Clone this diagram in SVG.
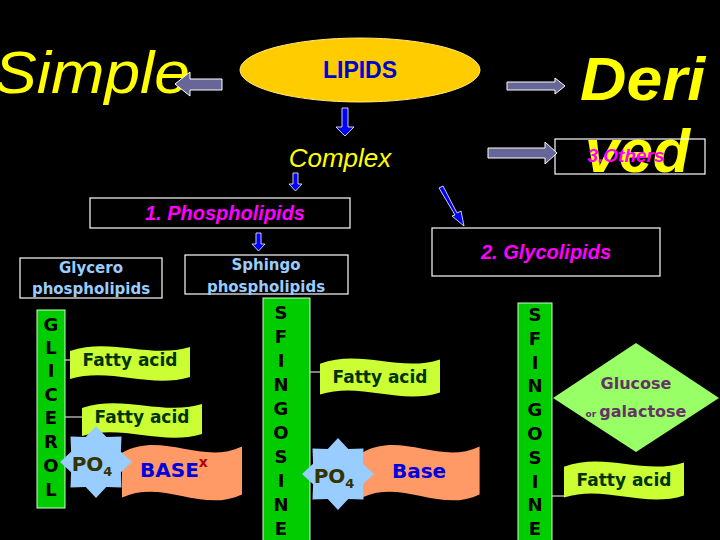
<svg xmlns="http://www.w3.org/2000/svg" xmlns:xlink="http://www.w3.org/1999/xlink" width="720" height="540" viewBox="0 0 720 540">
<style>
.big{font-family:"Liberation Sans",Arial,sans-serif;fill:#FFFF00;font-style:italic}
.box{fill:none;stroke:#fff;stroke-width:1.2}
.mag{font-family:"Liberation Sans",Arial,sans-serif;fill:#FF00FF;font-style:italic;font-weight:bold;text-anchor:middle}
.lb{font-family:"DejaVu Sans",Verdana,sans-serif;fill:#99CCFF;font-weight:bold;font-size:15px;text-anchor:middle}
.bar{fill:#00CC00;stroke:#ccffcc;stroke-width:1}
.let{font-family:"DejaVu Sans",Verdana,sans-serif;font-weight:bold;font-size:18px;text-anchor:middle;fill:#000}
.fa{fill:#CCFF33}
.fat{font-family:"DejaVu Sans",Verdana,sans-serif;font-weight:bold;font-size:17px;fill:#003300;text-anchor:middle}
.org{fill:#FF9966}
.star{fill:#99CCFF}
.po{font-family:"DejaVu Sans",Verdana,sans-serif;font-weight:bold;font-size:20px;fill:#333300;text-anchor:middle}
.ga{fill:#666699;stroke:#fff;stroke-width:1}
.ba{fill:#0000FF;stroke:#fff;stroke-width:0.8}
.ln{stroke:#fff;stroke-width:1}
</style>
<defs>
<path id="banner" d="M0,8 C40,-6 80,16 120,4 L120,34 C80,46 40,24 0,36 Z"/>
<polygon id="star" points="36,0 24.9,10.3 25.5,25.5 10.3,24.9 0,36 -10.3,24.9 -25.5,25.5 -24.9,10.3 -36,0 -24.9,-10.3 -25.5,-25.5 -10.3,-24.9 0,-36 10.3,-24.9 25.5,-25.5 24.9,-10.3"/>
</defs>
<rect width="720" height="540" fill="#000"/>

<g id="simple"><text class="big" x="-6" y="93" font-size="60" textLength="196" lengthAdjust="spacingAndGlyphs">Simple</text></g>
<g id="derived">
<text class="big" x="580" y="100" font-size="62" font-weight="bold" textLength="125" lengthAdjust="spacingAndGlyphs">Deri</text>
<text class="big" x="585" y="172" font-size="62" font-weight="bold" textLength="105" lengthAdjust="spacingAndGlyphs">ved</text>
</g>
<g id="lipids">
<ellipse cx="360" cy="70" rx="120" ry="32" fill="#FFCC00" stroke="#ffe680"/>
<text x="360" y="78" font-family="Liberation Sans,Arial,sans-serif" font-weight="bold" font-size="23" fill="#0000CC" text-anchor="middle">LIPIDS</text>
</g>
<g id="complex"><text class="big" x="340" y="167" font-size="26" text-anchor="middle">Complex</text></g>
<g id="others">
<rect class="box" x="555" y="139" width="150" height="35"/>
<text class="mag" x="626" y="162" font-size="19">3.Others</text>
</g>
<g id="phospholipids">
<rect class="box" x="90" y="198" width="260" height="30"/>
<text class="mag" x="225" y="220" font-size="20" font-weight="normal">1. Phospholipids</text>
</g>
<g id="glycolipids">
<rect class="box" x="432" y="228" width="228" height="48"/>
<text class="mag" x="546" y="259" font-size="20">2. Glycolipids</text>
</g>
<g id="glycero">
<rect class="box" x="20" y="258" width="142" height="40"/>
<text class="lb" x="91" y="273">Glycero</text>
<text class="lb" x="91" y="294">phospholipids</text>
</g>
<g id="sphingo">
<rect class="box" x="185" y="255" width="163" height="39"/>
<text class="lb" x="266" y="270">Sphingo</text>
<text class="lb" x="266" y="292">phospholipids</text>
</g>

<g id="connectors">
<polygon class="ga" points="222,79 190,79 190,72 175,84 190,96 190,90 222,90"/>
<polygon class="ga" points="507,82 555,82 555,78 565,86 555,94 555,90 507,90"/>
<polygon class="ga" points="488,148 545,148 545,142 557,153 545,164 545,158 488,158"/>
<polygon class="ba" points="342,108 348,108 348,127 354,127 345,136 336,127 342,127"/>
<polygon class="ba" points="293,173 298,173 298,184 302,184 295.5,191 289,184 293,184"/>
<polygon class="ba" points="256,233 261,233 261,244 265,244 258.5,251 252,244 256,244"/>
<polygon class="ba" points="439,188 443,186 457,213 461,211 464,226 452,216 455,215"/>
<line class="ln" x1="60" y1="360" x2="80" y2="360"/>
<line class="ln" x1="60" y1="417" x2="84" y2="417"/>
<line class="ln" x1="310" y1="372" x2="322" y2="372"/>
<line class="ln" x1="552" y1="496" x2="566" y2="496"/>
</g>

<g id="glycerol">
<rect class="bar" x="37" y="310" width="28" height="198"/>
<text class="let" x="51" y="331">G</text><text class="let" x="51" y="354">L</text><text class="let" x="51" y="377">I</text><text class="let" x="51" y="401">C</text><text class="let" x="51" y="424">E</text><text class="let" x="51" y="448">R</text><text class="let" x="51" y="472">O</text><text class="let" x="51" y="496">L</text>
</g>
<g id="fa1"><use href="#banner" class="fa" transform="translate(70,343) scale(1,1)"/><text class="fat" x="130" y="366">Fatty acid</text></g>
<g id="fa2"><use href="#banner" class="fa" transform="translate(82,400) scale(1,1)"/><text class="fat" x="142" y="423">Fatty acid</text></g>
<g id="base1"><use href="#banner" class="org" transform="translate(122,440) scale(1,1.6)"/>
<text x="140" y="477" font-family="DejaVu Sans,Verdana,sans-serif" font-weight="bold" font-size="20" fill="#0000DD">BASE<tspan dy="-10" font-size="14" fill="#AA0000">x</tspan></text></g>
<g id="po4a"><use href="#star" class="star" transform="translate(96,462)"/><text class="po" x="92" y="471">PO<tspan dy="5" font-size="13">4</tspan></text></g>

<g id="sphingosine1">
<rect class="bar" x="263" y="298" width="47" height="250"/>
<text class="let" x="281" y="319">S</text><text class="let" x="281" y="343">F</text><text class="let" x="281" y="367">I</text><text class="let" x="281" y="391">N</text><text class="let" x="281" y="415">G</text><text class="let" x="281" y="439">O</text><text class="let" x="281" y="463">S</text><text class="let" x="281" y="487">I</text><text class="let" x="281" y="511">N</text><text class="let" x="281" y="535">E</text>
</g>
<g id="fa3"><use href="#banner" class="fa" transform="translate(320,355) scale(1,1.1)"/><text class="fat" x="380" y="383">Fatty acid</text></g>
<g id="base2"><use href="#banner" class="org" transform="translate(362,440) scale(0.98,1.6)"/>
<text x="419" y="478" font-family="DejaVu Sans,Verdana,sans-serif" font-weight="bold" font-size="20" fill="#0000DD" text-anchor="middle">Base</text></g>
<g id="po4b"><use href="#star" class="star" transform="translate(338,474)"/><text class="po" x="334" y="483">PO<tspan dy="5" font-size="13">4</tspan></text></g>

<g id="sphingosine2">
<rect class="bar" x="518" y="303" width="34" height="245"/>
<text class="let" x="535" y="321">S</text><text class="let" x="535" y="345">F</text><text class="let" x="535" y="369">I</text><text class="let" x="535" y="392">N</text><text class="let" x="535" y="416">G</text><text class="let" x="535" y="440">O</text><text class="let" x="535" y="464">S</text><text class="let" x="535" y="488">I</text><text class="let" x="535" y="511">N</text><text class="let" x="535" y="535">E</text>
</g>
<g id="sugar">
<polygon points="553,398 636,343 719,398 636,452" fill="#99FF66"/>
<text x="636" y="389" font-family="DejaVu Sans,Verdana,sans-serif" font-weight="bold" font-size="16" fill="#663366" text-anchor="middle">Glucose</text>
<text x="636" y="417" font-family="DejaVu Sans,Verdana,sans-serif" font-weight="bold" font-size="16" fill="#663366" text-anchor="middle"><tspan font-size="9">or </tspan>galactose</text>
</g>
<g id="fa4"><use href="#banner" class="fa" transform="translate(564,458) scale(1,1.1)"/><text class="fat" x="624" y="486">Fatty acid</text></g>
</svg>
